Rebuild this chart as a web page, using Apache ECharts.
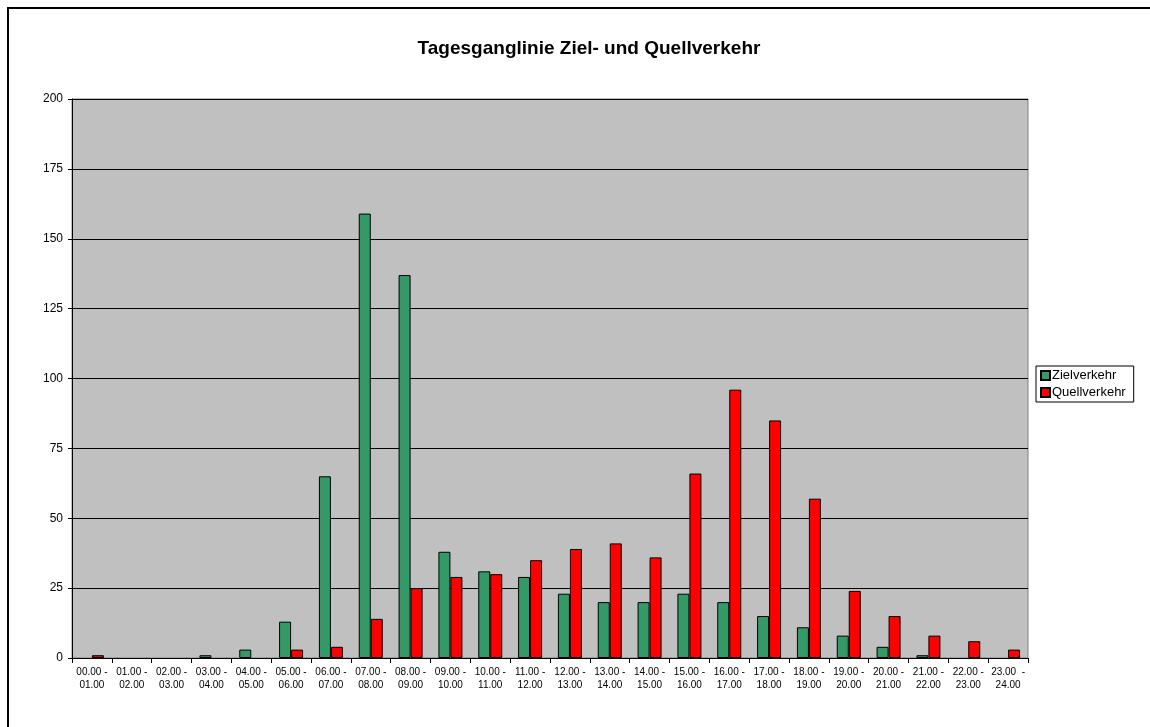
<!DOCTYPE html>
<html>
<head>
<meta charset="utf-8">
<script src="https://cdn.jsdelivr.net/npm/echarts@6/dist/echarts.min.js"></script>
<style>
  html, body { margin: 0; padding: 0; background: #fff; }
  #chart { width: 1150px; height: 727px; }
</style>
</head>
<body>
<div id="chart"></div>
<script>
// Time slots (hour ranges)
const hours = [
  '00.00 -\n01.00', '01.00 -\n02.00', '02.00 -\n03.00', '03.00 -\n04.00',
  '04.00 -\n05.00', '05.00 -\n06.00', '06.00 -\n07.00', '07.00 -\n08.00',
  '08.00 -\n09.00', '09.00 -\n10.00', '10.00 -\n11.00', '11.00 -\n12.00',
  '12.00 -\n13.00', '13.00 -\n14.00', '14.00 -\n15.00', '15.00 -\n16.00',
  '16.00 -\n17.00', '17.00 -\n18.00', '18.00 -\n19.00', '19.00 -\n20.00',
  '20.00 -\n21.00', '21.00 -\n22.00', '22.00 -\n23.00', '23.00  -\n24.00'
];

const zielverkehr = [0, 0, 0, 1, 3, 13, 65, 159, 137, 38, 31, 29, 23, 20, 20, 23, 20, 15, 11, 8, 4, 1, 0, 0];
const quellverkehr = [1, 0, 0, 0, 0, 3, 4, 14, 25, 29, 30, 35, 39, 41, 36, 66, 96, 85, 57, 24, 15, 8, 6, 3];

// zero values draw no bar at all in the original
const noZero = arr => arr.map(v => (v === 0 ? '-' : v));

const chart = echarts.init(document.getElementById('chart'));

const option = {
  animation: false,
  textStyle: { fontFamily: 'Liberation Sans, Arial, sans-serif', color: '#000' },
  title: {
    text: 'Tagesganglinie Ziel- und Quellverkehr',
    left: 584,
    top: 34,
    textAlign: 'center',
    textStyle: { fontSize: 19, fontWeight: 'bold', color: '#000' }
  },
  // outer chart frame
  graphic: [{
    type: 'rect',
    shape: { x: 8, y: 8, width: 1160, height: 740 },
    style: { fill: 'none', stroke: '#000', lineWidth: 2 },
    silent: true
  }],
  legend: {
    orient: 'vertical',
    left: 1036,
    top: 366,
    padding: [3, 8, 3, 4],
    itemGap: 4,
    itemWidth: 9,
    itemHeight: 9,
    borderColor: '#000',
    borderWidth: 1,
    backgroundColor: '#fff',
    textStyle: { fontSize: 13, color: '#000', padding: [0, 0, 0, -3] },
    data: [
      { name: 'Zielverkehr', icon: 'rect' },
      { name: 'Quellverkehr', icon: 'rect' }
    ]
  },
  grid: {
    left: 72,
    right: 122,
    top: 99,
    bottom: 69,
    show: true,
    backgroundColor: '#c0c0c0',
    borderColor: '#808080',
    borderWidth: 1
  },
  xAxis: {
    type: 'category',
    data: hours,
    boundaryGap: true,
    axisLine: { lineStyle: { color: '#000', width: 1 } },
    axisTick: { show: true, length: 5, lineStyle: { color: '#000' } },
    axisLabel: { fontSize: 10, color: '#000', interval: 0, margin: 8, lineHeight: 13 }
  },
  yAxis: {
    type: 'value',
    min: 0,
    max: 200,
    interval: 25,
    axisLine: { show: true, lineStyle: { color: '#000', width: 1 } },
    axisTick: { show: true, length: 4, lineStyle: { color: '#000' } },
    axisLabel: { fontSize: 12, color: '#000', margin: 9 },
    splitLine: { lineStyle: { color: '#000', width: 1 } }
  },
  series: [
    {
      name: 'Zielverkehr',
      type: 'bar',
      data: noZero(zielverkehr),
      barWidth: 12,
      barGap: '0%',
      itemStyle: { color: '#339966', borderColor: '#000', borderWidth: 1 }
    },
    {
      name: 'Quellverkehr',
      type: 'bar',
      data: noZero(quellverkehr),
      barWidth: 12,
      barGap: '0%',
      itemStyle: { color: '#ff0000', borderColor: '#000', borderWidth: 1 }
    }
  ]
};

chart.setOption(option);
</script>
</body>
</html>
